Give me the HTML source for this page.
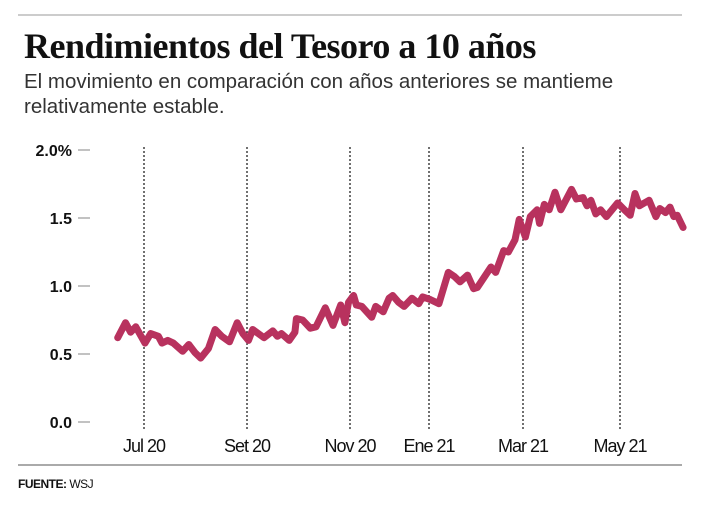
<!DOCTYPE html>
<html><head><meta charset="utf-8"><style>
body{margin:0;background:#fff;width:704px;height:514px;overflow:hidden;font-family:"Liberation Sans",sans-serif}
</style></head><body>
<svg width="704" height="514">
<line x1="18" y1="15" x2="682" y2="15" stroke="#999" stroke-width="1"/>
<text x="24" y="58" font-family="Liberation Serif,serif" font-weight="bold" font-size="36" fill="#111" letter-spacing="-0.5">Rendimientos del Tesoro a 10 años</text>
<text x="24" y="88" font-size="20.5" fill="#333" letter-spacing="0">El movimiento en comparación con años anteriores se mantieme</text>
<text x="24" y="113" font-size="20.5" fill="#333" letter-spacing="0">relativamente estable.</text>
<g id="grid"></g><g id="yaxis"></g><g id="xaxis"></g>
<path id="line" fill="none" stroke="#b8325e" stroke-width="7" stroke-linejoin="round" stroke-linecap="round"/>
<line x1="18" y1="465" x2="682" y2="465" stroke="#aaa" stroke-width="2"/>
<text x="18" y="488" font-size="12" font-weight="bold" fill="#111" letter-spacing="-0.5">FUENTE: <tspan font-weight="normal">WSJ</tspan></text>
</svg>
<script>
const monthT=[-0.51,-0.36,-0.26,-0.16,0.02,0.13,0.28,0.35,0.46,0.57,0.75,0.87,0.99,1.10,1.25,1.38,1.51,1.66,1.81,1.92,2.03,2.11,2.22,2.33,2.50,2.59,2.67,2.82,2.93,2.96,3.08,3.23,3.34,3.52,3.67,3.82,3.90,3.97,4.09,4.16,4.30,4.55,4.65,4.84,4.99,5.08,5.23,5.37,5.57,5.74,5.84,6.03,6.21,6.41,6.54,6.66,6.82,6.95,7.03,7.32,7.42,7.59,7.69,7.83,7.92,8.05,8.15,8.29,8.34,8.44,8.54,8.66,8.78,9.00,9.10,9.24,9.32,9.40,9.50,9.60,9.72,9.95,10.09,10.21,10.31,10.40,10.50,10.60,10.74,10.82,10.94,11.03,11.11,11.18,11.30];
const yields=[0.62,0.73,0.66,0.70,0.58,0.65,0.63,0.58,0.60,0.58,0.52,0.57,0.51,0.47,0.54,0.68,0.63,0.59,0.73,0.65,0.60,0.68,0.65,0.62,0.67,0.63,0.65,0.60,0.66,0.76,0.75,0.69,0.70,0.84,0.71,0.86,0.73,0.88,0.93,0.86,0.85,0.77,0.85,0.81,0.91,0.93,0.88,0.85,0.91,0.87,0.92,0.90,0.87,1.10,1.07,1.03,1.08,0.98,0.99,1.14,1.10,1.26,1.25,1.34,1.49,1.36,1.51,1.56,1.46,1.60,1.56,1.69,1.56,1.71,1.64,1.65,1.59,1.63,1.53,1.56,1.51,1.61,1.56,1.52,1.68,1.59,1.61,1.63,1.51,1.57,1.54,1.58,1.51,1.52,1.43];
const tickT=[0,2,4,6,8,10];
const tickLabels=["Jul 20","Set 20","Nov 20","Ene 21","Mar 21","May 21"];
const yTicks=[0,0.5,1.0,1.5,2.0];
const yTickLabels=["0.0","0.5","1.0","1.5","2.0%"];
const ns="http://www.w3.org/2000/svg";
const dom=[0,2,4,6,8,10],rng=[144,247,350,429,523,620];
function x(t){let i=0;if(t>=dom[dom.length-1])i=dom.length-2;else while(i<dom.length-2&&t>dom[i+1])i++;return rng[i]+(t-dom[i])*(rng[i+1]-rng[i])/(dom[i+1]-dom[i]);}
function y(v){return 422-v*136;}
function mk(tag,attrs,parent){const e=document.createElementNS(ns,tag);for(const k in attrs)e.setAttribute(k,attrs[k]);document.getElementById(parent).appendChild(e);return e;}
tickT.forEach((t,i)=>{
 const g=mk('line',{x1:x(t),x2:x(t),y1:147,y2:430,stroke:'#111','stroke-width':1.2,'stroke-dasharray':'2,2'},'grid');
 
 
 const l=mk('text',{x:x(t),y:452,'text-anchor':'middle','font-size':18,fill:'#111','letter-spacing':-1},'xaxis');
 l.textContent=tickLabels[i];
 
 
});
yTicks.forEach((v,i)=>{
 const l=mk('text',{x:72,y:y(v)+6,'text-anchor':'end','font-size':16,'font-weight':'bold',fill:'#111'},'yaxis');
 l.textContent=yTickLabels[i];
 
 
 const d=mk('line',{x1:78,x2:90,y1:y(v),y2:y(v),stroke:'#999','stroke-width':1.2},'yaxis');
 
 
});
document.getElementById('line').setAttribute('d',yields.map((v,i)=>(i?'L':'M')+x(monthT[i]).toFixed(1)+','+y(v).toFixed(1)).join(''));
</script>
</body></html>
